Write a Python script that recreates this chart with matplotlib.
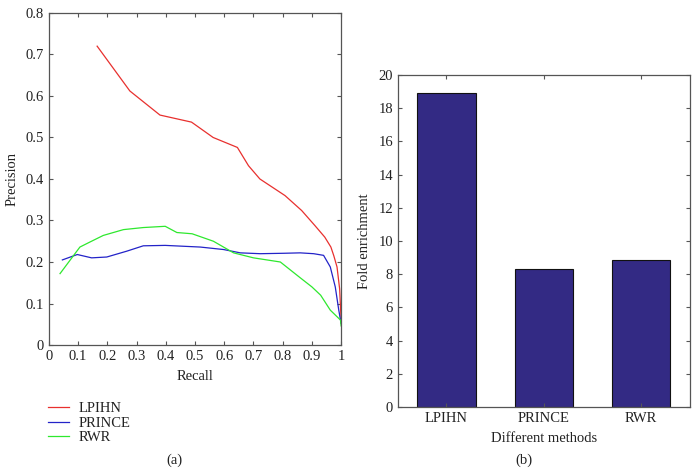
import matplotlib
matplotlib.use("Agg")
import matplotlib.pyplot as plt

plt.rcParams["font.family"] = ["Liberation Serif", "DejaVu Serif"]

# ---- data ----
lpihn_recall = [0.165, 0.277, 0.38, 0.488, 0.562, 0.645, 0.683, 0.722, 0.808,
                0.865, 0.91, 0.944, 0.965, 0.975, 0.986, 0.995, 1.0]
lpihn_prec = [0.72, 0.612, 0.554, 0.537, 0.50, 0.476, 0.432, 0.40, 0.36,
              0.324, 0.288, 0.26, 0.236, 0.215, 0.188, 0.135, 0.06]

prince_recall = [0.046, 0.097, 0.146, 0.198, 0.266, 0.323, 0.398, 0.518, 0.598,
                 0.655, 0.723, 0.803, 0.86, 0.906, 0.94, 0.963, 0.98, 0.992, 1.0]
prince_prec = [0.205, 0.218, 0.21, 0.212, 0.226, 0.239, 0.24, 0.236, 0.23,
               0.222, 0.22, 0.221, 0.222, 0.22, 0.216, 0.188, 0.14, 0.084, 0.052]

rwr_recall = [0.038, 0.072, 0.106, 0.14, 0.186, 0.255, 0.323, 0.398, 0.438,
              0.49, 0.563, 0.632, 0.70, 0.792, 0.86, 0.90, 0.93, 0.963, 0.998, 1.0]
rwr_prec = [0.172, 0.204, 0.236, 0.248, 0.264, 0.278, 0.283, 0.286, 0.271,
            0.268, 0.25, 0.222, 0.21, 0.20, 0.162, 0.14, 0.12, 0.084, 0.06, 0.046]

methods = ["LPIHN", "PRINCE", "RWR"]
fold_enrichment = [18.9, 8.3, 8.85]

SPINE = "#555555"
BAR = "#332a84"
TXT = "#222222"
FS = 10.5


def style(ax):
    for s in ax.spines.values():
        s.set_color(SPINE)
        s.set_linewidth(0.9)
    ax.tick_params(direction="in", top=True, right=True, colors=SPINE,
                   labelcolor=TXT, labelsize=FS, length=3, width=0.8)


fig = plt.figure(figsize=(6.99, 4.73), dpi=100)

# (a) precision-recall
ax1 = fig.add_axes([0.070, 0.2706, 0.418, 0.702])
ax1.plot(lpihn_recall, lpihn_prec, color="#e8302e", lw=0.9, label="LPIHN")
ax1.plot(prince_recall, prince_prec, color="#2323c8", lw=0.9, label="PRINCE")
ax1.plot(rwr_recall, rwr_prec, color="#2ee82e", lw=0.9, label="RWR")
ax1.set_xlim(0, 1)
ax1.set_ylim(0, 0.8)
ax1.set_xticks([i / 10 for i in range(11)],
               ["0"] + [f"{i / 10:.1f}" for i in range(1, 10)] + ["1"])
ax1.set_yticks([i / 10 for i in range(9)],
               ["0"] + [f"{i / 10:.1f}" for i in range(1, 9)])
ax1.set_xlabel("Recall", fontsize=FS, color=TXT, labelpad=5)
ax1.set_ylabel("Precision", fontsize=FS, color=TXT, labelpad=5)
style(ax1)
fig.legend(*ax1.get_legend_handles_labels(), loc="upper left",
           bbox_to_anchor=(0.054, 0.172), frameon=False, fontsize=FS,
           handlelength=1.45, handletextpad=0.62, labelspacing=0.1,
           labelcolor=TXT, borderpad=0.2)
fig.text(0.250, 0.020, "(a)", ha="center", fontsize=FS, color=TXT)

# (b) fold enrichment
ax2 = fig.add_axes([0.569, 0.1395, 0.418, 0.702])
x = range(1, len(methods) + 1)
ax2.bar(x, fold_enrichment, width=0.6, color=BAR, edgecolor="#111111", lw=0.8)
ax2.set_xlim(0.5, 3.5)
ax2.set_ylim(0, 20)
ax2.set_xticks(list(x), methods)
ax2.set_yticks(range(0, 21, 2))
ax2.set_xlabel("Different methods", fontsize=FS, color=TXT, labelpad=5)
ax2.set_ylabel("Fold enrichment", fontsize=FS, color=TXT, labelpad=5)
style(ax2)
fig.text(0.750, 0.020, "(b)", ha="center", fontsize=FS, color=TXT)

fig.savefig("out.png", dpi=100, facecolor="white")
